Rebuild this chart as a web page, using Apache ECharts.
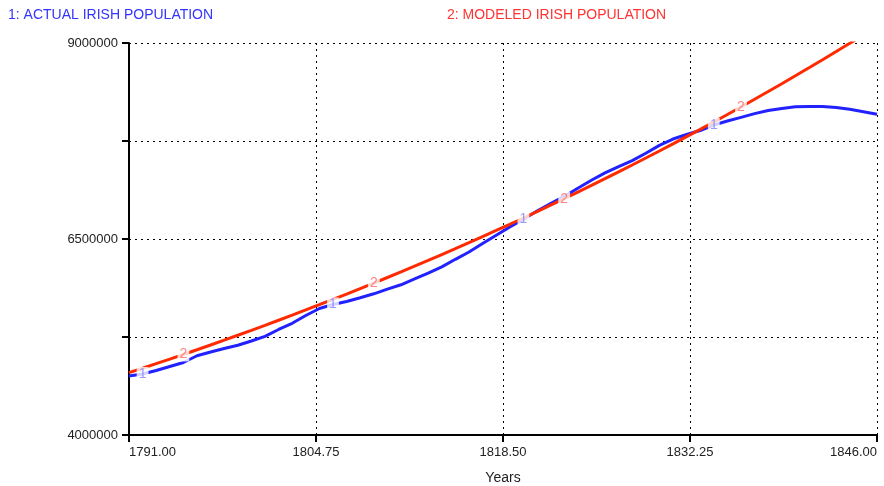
<!DOCTYPE html>
<html>
<head>
<meta charset="utf-8">
<script src="https://cdn.jsdelivr.net/npm/echarts@6/dist/echarts.min.js"></script>
<style>
html,body{margin:0;padding:0;background:#fff;}
#chart{width:884px;height:486px;}
</style>
</head>
<body>
<div id="chart"></div>
<script>
const years = [1791,1792,1793,1794,1795,1796,1797,1798,1799,1800,1801,1802,1803,1804,1805,1806,1807,1808,1809,1810,1811,1812,1813,1814,1815,1816,1817,1818,1819,1820,1821,1822,1823,1824,1825,1826,1827,1828,1829,1830,1831,1832,1833,1834,1835,1836,1837,1838,1839,1840,1841,1842,1843,1844,1845,1846];
const actualPopulation = [4753000,4778000,4823000,4874000,4925000,5011000,5059000,5103000,5145000,5199000,5259000,5346000,5425000,5524000,5614000,5665000,5703000,5751000,5801000,5860000,5916000,5990000,6065000,6145000,6241000,6334000,6443000,6548000,6653000,6751000,6856000,6951000,7043000,7148000,7250000,7344000,7423000,7500000,7594000,7694000,7775000,7833000,7884000,7954000,8005000,8052000,8099000,8138000,8165000,8187000,8190000,8190000,8177000,8154000,8124000,8091000];
const modeledPopulation = [4795000,4852000,4910000,4968000,5027000,5087000,5148000,5210000,5272000,5335000,5399000,5464000,5529000,5595000,5662000,5730000,5798000,5868000,5938000,6009000,6081000,6154000,6227000,6302000,6377000,6453000,6531000,6609000,6688000,6768000,6849000,6931000,7014000,7098000,7183000,7269000,7356000,7444000,7533000,7623000,7714000,7806000,7899000,7993000,8088000,8184000,8282000,8381000,8481000,8582000,8684000,8787000,8891000,8996000,9102000,9210000];
const actualMarkerYears = [1792,1806,1820,1834];
const modeledMarkerYears = [1795,1809,1823,1836];
const xTicks = [1791,1804.75,1818.5,1832.25,1846];
const yTicks = [4000000,5250000,6500000,7750000,9000000];
const yLabelTicks = [4000000,6500000,9000000];
const seriesNames = ['1: ACTUAL IRISH POPULATION','2: MODELED IRISH POPULATION'];
const xAxisName = 'Years';

const FONT = "'Liberation Sans', Arial, sans-serif";
const pairs = (vals) => years.map((y,i)=>[y, vals[i]]);
const markers = (vals, ys) => ys.map(y => [y, vals[years.indexOf(y)]]);

const chart = echarts.init(document.getElementById('chart'), null, {renderer:'canvas'});
chart.setOption({
  animation:false,
  backgroundColor:'#fff',
  title:[
    {text:seriesNames[0], left:3, top:3, textStyle:{color:'#3333ff', fontSize:14, fontWeight:'normal', fontFamily:FONT}},
    {text:seriesNames[1], left:442, top:3, textStyle:{color:'#ff3333', fontSize:14, fontWeight:'normal', fontFamily:FONT}}
  ],
  grid:{left:129, right:7, top:43, bottom:51, containLabel:false, outerBoundsMode:'none'},
  xAxis:{
    type:'value', min:1791, max:1846,
    name:xAxisName, nameLocation:'middle', nameGap:36,
    nameTextStyle:{color:'#222', fontSize:14, fontFamily:FONT},
    axisLine:{show:true, onZero:false, lineStyle:{color:'#000', width:2}},
    axisTick:{show:true, customValues:xTicks, length:7, lineStyle:{color:'#000', width:2}},
    axisLabel:{customValues:xTicks, margin:11, color:'#222', fontSize:13, fontFamily:FONT,
      formatter:v=>Number(v).toFixed(2), alignMinLabel:'left', alignMaxLabel:'right'},
    splitLine:{show:true, lineStyle:{color:'#000', width:1, type:[2,4]}}
  },
  yAxis:{
    type:'value', min:4000000, max:9000000,
    axisLine:{show:true, onZero:false, lineStyle:{color:'#000', width:2}},
    axisTick:{show:true, customValues:yTicks, length:7, lineStyle:{color:'#000', width:2}},
    axisLabel:{customValues:yLabelTicks, margin:11, color:'#222', fontSize:13, fontFamily:FONT,
      formatter:v=>String(Math.round(v))},
    splitLine:{show:true, lineStyle:{color:'#000', width:1, type:[2,4]}}
  },
  series:[
    {name:seriesNames[0], type:'line', data:pairs(actualPopulation), showSymbol:false, symbol:'none',
      lineStyle:{color:'#2222ff', width:3}, z:2},
    {name:seriesNames[1], type:'line', data:pairs(modeledPopulation), showSymbol:false, symbol:'none',
      lineStyle:{color:'#ff2a00', width:3}, z:3},
    {type:'scatter', data:markers(actualPopulation,actualMarkerYears), symbolSize:1,
      itemStyle:{color:'rgba(0,0,0,0)'}, z:5,
      label:{show:true, position:'inside', formatter:'1', color:'#8080ff', fontSize:14, fontFamily:FONT,
        backgroundColor:'#fff', padding:[0,2]}},
    {type:'scatter', data:markers(modeledPopulation,modeledMarkerYears), symbolSize:1,
      itemStyle:{color:'rgba(0,0,0,0)'}, z:5,
      label:{show:true, position:'inside', formatter:'2', color:'#ff6666', fontSize:14, fontFamily:FONT,
        backgroundColor:'#fff', padding:[0,2]}}
  ]
});
</script>
</body>
</html>
